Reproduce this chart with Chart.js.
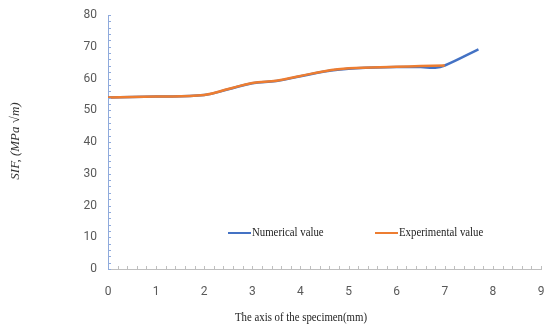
<!DOCTYPE html>
<html>
<head>
<meta charset="utf-8">
<script src="https://cdn.jsdelivr.net/npm/chart.js@4"></script>
<style>
  html, body { margin: 0; padding: 0; background: #fff; }
  #wrap { width: 544px; height: 329px; }
</style>
</head>
<body>
<div id="wrap"><canvas id="chartSif"></canvas></div>
<script>
// valores
const posNumerico = [0, 1, 2, 2.5, 3, 3.5, 4, 4.5, 5, 6, 6.5, 6.8, 7, 7.7];
const sifNumerico = [54, 54.3, 54.8, 56.6, 58.5, 59.2, 60.7, 62.2, 63.1, 63.6, 63.6, 63.4, 64.1, 69.2];
const posExperimental = [0, 1, 2, 2.5, 3, 3.5, 4, 4.5, 5, 6, 6.5, 7];
const sifExperimental = [54, 54.3, 54.8, 56.7, 58.6, 59.3, 60.8, 62.3, 63.2, 63.7, 63.9, 64.1];
const nomesSeries = ['Numerical value', 'Experimental value'];
const coresSeries = ['#4472C4', '#ED7D31'];
const tituloX = 'The axis of the specimen(mm)';
const tituloY = 'SIF, (MPa \u221Am)';

const familiaTicks = "'Liberation Sans Narrow', Roboto, sans-serif";
const fonteSerif = "12px 'Liberation Serif', 'DejaVu Serif', serif";

function pontos(xs, ys) {
    return xs.map((x, i) => ({ x, y: ys[i] }));
}

// texto serif um pouco condensado, como no original
function textoEstreito(ctx, txt, x, y, alinhar) {
    ctx.save();
    ctx.translate(x, y);
    ctx.scale(0.9, 1);
    ctx.textAlign = alinhar;
    ctx.fillText(txt, 0, 0);
    ctx.restore();
}

// marcas menores, legenda e títulos
const extras = {
    id: 'extras',
    afterDraw(chart) {
        const ctx = chart.ctx;
        const { x: sx, y: sy } = chart.scales;
        const area = chart.chartArea;
        ctx.save();

        ctx.lineWidth = 1;
        ctx.strokeStyle = '#8faadc';
        for (let v = 0; v <= 80; v += 2) {
            const py = Math.round(sy.getPixelForValue(v)) + 0.5;
            ctx.beginPath();
            ctx.moveTo(area.left, py);
            ctx.lineTo(area.left + 3, py);
            ctx.stroke();
        }
        ctx.strokeStyle = '#bfbfbf';
        for (let v = 0.2; v <= 9.01; v += 0.2) {
            const px = Math.round(sx.getPixelForValue(v)) + 0.5;
            ctx.beginPath();
            ctx.moveTo(px, area.bottom);
            ctx.lineTo(px, area.bottom - 3);
            ctx.stroke();
        }

        // legenda
        ctx.font = fonteSerif;
        ctx.textBaseline = 'middle';
        const legY = 233;
        const legX = [228, 375];
        nomesSeries.forEach((nome, i) => {
            ctx.strokeStyle = coresSeries[i];
            ctx.lineWidth = 2;
            ctx.beginPath();
            ctx.moveTo(legX[i], legY);
            ctx.lineTo(legX[i] + 23, legY);
            ctx.stroke();
            ctx.fillStyle = '#222';
            textoEstreito(ctx, nome, legX[i] + 24, legY, 'left');
        });

        // título x
        textoEstreito(ctx, tituloX, 301, 318, 'center');

        // título y
        ctx.translate(16, 141);
        ctx.rotate(-Math.PI / 2);
        ctx.font = "italic 13px 'Liberation Serif', 'DejaVu Serif', serif";
        ctx.fillStyle = '#333';
        ctx.textAlign = 'center';
        ctx.fillText(tituloY, 0, 0);
        ctx.restore();
    }
};

new Chart(document.getElementById('chartSif'), {
    type: 'scatter',
    data: {
        datasets: [
            {
                label: nomesSeries[0],
                data: pontos(posNumerico, sifNumerico),
                showLine: true,
                borderColor: coresSeries[0],
                borderWidth: 2.5,
                pointRadius: 0,
                tension: 0.4,
                order: 1
            },
            {
                label: nomesSeries[1],
                data: pontos(posExperimental, sifExperimental),
                showLine: true,
                borderColor: coresSeries[1],
                borderWidth: 2.5,
                pointRadius: 0,
                tension: 0.4,
                order: 0
            }
        ]
    },
    options: {
        responsive: true,
        maintainAspectRatio: false,
        animation: false,
        layout: { padding: { top: 15, right: 3, left: 0, bottom: 0 } },
        plugins: { legend: { display: false }, tooltip: { enabled: false } },
        scales: {
            x: {
                type: 'linear',
                min: 0,
                max: 9,
                afterFit: s => { s.height = 60; s.paddingRight = 0; s.paddingLeft = 0; },
                border: { color: '#bfbfbf', width: 1 },
                grid: { display: false },
                ticks: { stepSize: 1, color: '#595959', font: { family: familiaTicks, size: 12 }, padding: 8, maxRotation: 0 }
            },
            y: {
                min: 0,
                max: 80,
                afterFit: s => { s.width = 108; },
                border: { color: '#8faadc', width: 1 },
                grid: { display: false },
                ticks: { stepSize: 10, color: '#595959', font: { family: familiaTicks, size: 12 }, padding: 3 }
            }
        }
    },
    plugins: [extras]
});
</script>
</body>
</html>
